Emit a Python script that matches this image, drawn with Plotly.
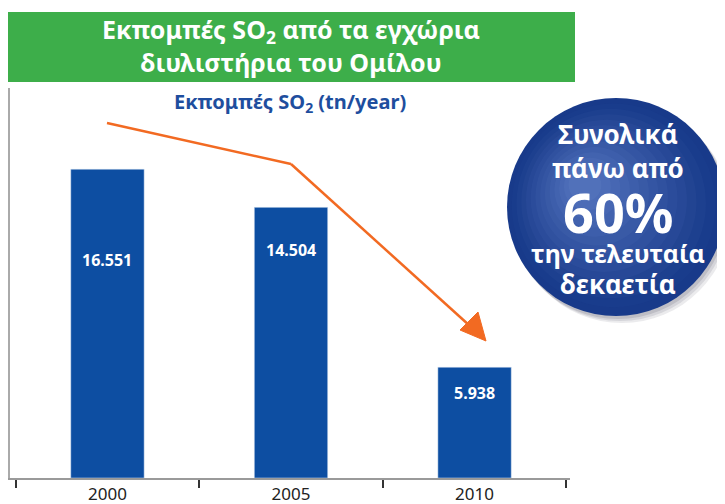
import plotly.graph_objects as go

# ---- data ----
years = ["2000", "2005", "2010"]
so2_emissions = [16551, 14504, 5938]
bar_labels = ["16.551", "14.504", "5.938"]

title_lines = ["Εκπομπές SO<sub>2</sub> από τα εγχώρια", "διυλιστήρια του Ομίλου"]
subtitle = "Εκπομπές SO<sub>2</sub> (tn/year)"
badge_lines = ["Συνολικά", "πάνω από", "60%", "την τελευταία", "δεκαετία"]

# page body has an 8px default margin; compensate
OFF = 8
W, H = 725 - OFF, 504 - OFF
L, R, T, B = 10, 570, 88, 478   # plot area in screen pixels

def px(x):
    return (x - L) / (R - L)

def py(y):
    return (B - y) / (B - T)

BAR = "#0D4EA2"
FONT = "Noto Sans"

fig = go.Figure()
fig.add_trace(go.Bar(x=years, y=so2_emissions, marker_color=BAR, width=0.4,
                     hoverinfo="skip", showlegend=False))

shapes = []
annotations = []

# green title box
shapes.append(dict(type="rect", xref="paper", yref="paper",
                   x0=px(8), x1=px(575), y0=py(82), y1=py(12),
                   fillcolor="#3DAE4A", line=dict(width=0), layer="below"))
annotations.append(dict(xref="paper", yref="paper", x=px(291), y=py(46),
                        text="<b>" + "<br>".join(title_lines) + "</b>", showarrow=False,
                        font=dict(family=FONT, size=25, color="white"),
                        xanchor="center", yanchor="middle", align="center"))
annotations.append(dict(xref="paper", yref="paper", x=px(290), y=py(102),
                        text="<b>" + subtitle + "</b>", showarrow=False,
                        font=dict(family=FONT, size=20, color="#1E4E9E"),
                        xanchor="center", yanchor="middle"))

# bar value labels (x given as category index)
label_px = [260, 250, 393]
for i, (lab, ly) in enumerate(zip(bar_labels, label_px)):
    annotations.append(dict(x=i, xref="x", yref="paper", y=py(ly),
                            text="<b>" + lab + "</b>", showarrow=False,
                            font=dict(family=FONT, size=16, color="white"),
                            xanchor="center", yanchor="middle"))

# orange trend arrow
ORANGE = "#F26A22"
shapes.append(dict(type="line", xref="paper", yref="paper",
                   x0=px(107), y0=py(123), x1=px(291), y1=py(164),
                   line=dict(color=ORANGE, width=2.5)))
shapes.append(dict(type="line", xref="paper", yref="paper",
                   x0=px(291), y0=py(164), x1=px(470), y1=py(326),
                   line=dict(color=ORANGE, width=2.5)))
tip = (486, 341)
b1 = (460, 330)
b2 = (478, 312)
path = "M {} {} L {} {} L {} {} Z".format(px(tip[0]), py(tip[1]), px(b1[0]), py(b1[1]),
                                        px(b2[0]), py(b2[1]))
shapes.append(dict(type="path", xref="paper", yref="paper", path=path,
                   fillcolor=ORANGE, line=dict(color=ORANGE, width=1)))

# blue badge circle with pseudo radial gradient
cx, cy, r = 616, 207, 109
for dx, alpha in [(6, 0.10), (4, 0.12), (2, 0.15)]:
    shapes.append(dict(type="circle", xref="paper", yref="paper",
                       x0=px(cx - r + dx), x1=px(cx + r + dx),
                       y0=py(cy + r + dx + 1), y1=py(cy - r + dx + 1),
                       fillcolor="rgba(60,60,80,%.2f)" % alpha, line=dict(width=0)))
steps = 14
hx, hy = 585, 185
c0 = (24, 58, 138)
c1 = (86, 118, 190)
for i in range(steps):
    t = i / (steps - 1)
    rr = r * (1 - t * 0.85)
    ccx = cx + (hx - cx) * t
    ccy = cy + (hy - cy) * t
    col = tuple(int(c0[k] + (c1[k] - c0[k]) * t) for k in range(3))
    shapes.append(dict(type="circle", xref="paper", yref="paper",
                       x0=px(ccx - rr), x1=px(ccx + rr),
                       y0=py(ccy + rr), y1=py(ccy - rr),
                       fillcolor="rgb(%d,%d,%d)" % col, line=dict(width=0),
                       opacity=1 if i == 0 else 0.55))

badge_y = [134, 168, 212, 253, 284]
badge_size = [26, 26, 54, 25, 26]
for txt, yy, sz in zip(badge_lines, badge_y, badge_size):
    annotations.append(dict(xref="paper", yref="paper", x=px(618), y=py(yy),
                            text="<b>" + txt + "</b>", showarrow=False,
                            font=dict(family=FONT, size=sz, color="white"),
                            xanchor="center", yanchor="middle"))

fig.update_layout(
    width=W, height=H,
    margin=dict(l=L - OFF, r=W - (R - OFF), t=T - OFF, b=H - (B - OFF), pad=0,
                autoexpand=False),
    paper_bgcolor="white", plot_bgcolor="white",
    shapes=shapes, annotations=annotations,
    xaxis=dict(type="category", range=[-0.531, 2.52], showline=True, linecolor="#9a9a9a",
               linewidth=2, tickson="boundaries", ticks="outside", ticklen=8,
               tickwidth=1.5, tickcolor="#333", showgrid=False, zeroline=False,
               automargin=False,
               tickfont=dict(family=FONT, size=17, color="#222"), fixedrange=True),
    yaxis=dict(range=[0, 20900], showline=True, linecolor="#aaaaaa", linewidth=2,
               showticklabels=False, ticks="", showgrid=False, zeroline=False,
               automargin=False, fixedrange=True),
)

fig.write_html("out.html")
